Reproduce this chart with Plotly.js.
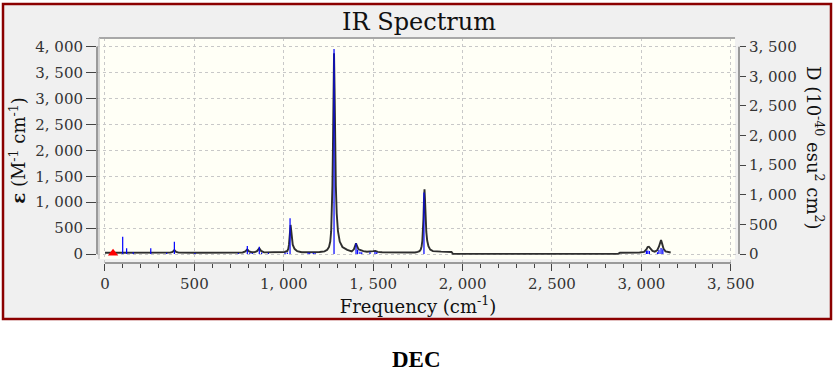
<!DOCTYPE html>
<html>
<head>
<meta charset="utf-8">
<script src="https://cdn.plot.ly/plotly-3.0.1.min.js"></script>
<style>
html,body{margin:0;padding:0;background:#ffffff;}
#chart{width:838px;height:377px;}
</style>
</head>
<body>
<div id="chart"></div>
<script>
// Broadened spectrum (black curve), epsilon in M^-1 cm^-1
const curveFreq = [0, 90, 250, 256, 262, 365, 378, 388, 398, 412, 500, 720, 770, 785, 796, 806, 820, 835, 850, 863, 873, 890, 980, 1005, 1020, 1025, 1029, 1032, 1035, 1038, 1041, 1045, 1050, 1060, 1075, 1100, 1128, 1136, 1144, 1158, 1168, 1180, 1200, 1228, 1243, 1253, 1260, 1265, 1269, 1272, 1275, 1278, 1281, 1284, 1287, 1291, 1296, 1303, 1313, 1328, 1355, 1380, 1392, 1399, 1404, 1410, 1418, 1430, 1445, 1465, 1480, 1490, 1500, 1512, 1525, 1550, 1650, 1734, 1749, 1759, 1766, 1771, 1775, 1778, 1781, 1784, 1787, 1790, 1793, 1797, 1802, 1809, 1819, 1834, 1880, 1938, 1946, 2000, 2870, 2880, 2990, 3015, 3028, 3035, 3042, 3050, 3062, 3075, 3088, 3098, 3105, 3110, 3116, 3124, 3135, 3150, 3164];
const curveEps = [25, 25, 25, 32, 25, 27, 42, 77, 42, 27, 25, 25, 30, 50, 90, 52, 35, 33, 55, 110, 60, 32, 28, 40, 60, 100, 180, 320, 470, 560, 470, 320, 180, 100, 55, 35, 33, 42, 33, 35, 40, 34, 38, 50, 80, 135, 240, 440, 780, 1320, 2100, 3200, 3872, 3200, 2100, 1320, 780, 440, 240, 135, 80, 50, 90, 170, 206, 150, 90, 75, 55, 45, 55, 48, 55, 60, 40, 33, 28, 30, 40, 55, 85, 150, 260, 430, 680, 1030, 1248, 1030, 680, 430, 260, 150, 85, 55, 45, 40, 3, 2, 2, 25, 28, 40, 90, 135, 141, 110, 60, 45, 70, 140, 220, 270, 200, 100, 50, 35, 28];

// Stick spectrum (blue lines), D in 10^-40 esu^2 cm^2
const stickFreq = [99, 121, 158, 256, 345, 388, 503, 746, 796, 810, 824, 863, 876, 914, 1007, 1020, 1035, 1136, 1145, 1165, 1175, 1281, 1404, 1413, 1426, 1436, 1482, 1510, 1520, 1784, 3028, 3036, 3045, 3090, 3098, 3110, 3120];
const stickD = [292, 96, 30, 96, 20, 208, 15, 15, 135, 20, 15, 123, 25, 20, 20, 25, 603, 25, 20, 20, 15, 3461, 181, 70, 40, 30, 30, 40, 30, 1040, 55, 60, 50, 30, 70, 100, 80];

// Marker
const markerFreq = [45];
const markerEps = [15];

// Tick labels
const xTickVals = [0, 500, 1000, 1500, 2000, 2500, 3000, 3500];
const xTickText = ["0", "500", "1, 000", "1, 500", "2, 000", "2, 500", "3, 000", "3, 500"];
const epsTickVals = [0, 500, 1000, 1500, 2000, 2500, 3000, 3500, 4000];
const epsTickText = ["0", "500", "1, 000", "1, 500", "2, 000", "2, 500", "3, 000", "3, 500", "4, 000"];
const dTickVals = [0, 500, 1000, 1500, 2000, 2500, 3000, 3500];
const dTickText = ["0", "500", "1, 000", "1, 500", "2, 000", "2, 500", "3, 000", "3, 500"];

const titleText = "IR Spectrum";
const xTitle = "Frequency (cm<sup>-1</sup>)";
const yTitle = "<b>ε</b> (M<sup>-1</sup> cm<sup>-1</sup>)";
const y2Title = "D (10<sup>-40</sup> esu<sup>2</sup> cm<sup>2</sup>)";
const captionText = "<b>DEC</b>";

// Build stick segments
const sx = [], sy = [];
for (let i = 0; i < stickFreq.length; i++) {
  sx.push(stickFreq[i], stickFreq[i], null);
  sy.push(0, stickD[i], null);
}

const FONT = "DejaVu Serif, Liberation Serif, serif";

const traces = [
  {x: sx, y: sy, type: 'scatter', mode: 'lines', yaxis: 'y2',
   line: {color: '#0000ff', width: 1.2}, hoverinfo: 'skip', showlegend: false},
  {x: curveFreq, y: curveEps, type: 'scatter', mode: 'lines',
   line: {color: '#2e2e2e', width: 1.9}, showlegend: false},
  {x: markerFreq, y: markerEps, type: 'scatter', mode: 'markers',
   marker: {symbol: 'triangle-up', color: '#ff0000', size: 9}, showlegend: false}
];

const layout = {
  width: 838, height: 377, autosize: false,
  margin: {l: 97, r: 99, t: 38, b: 114, pad: 0},
  paper_bgcolor: '#ffffff',
  plot_bgcolor: 'rgba(0,0,0,0)',
  font: {family: FONT, color: '#222'},
  title: {text: titleText, font: {family: FONT, size: 24, color: '#111'},
          x: 0.5, xref: 'container', y: 0.944, yref: 'container', yanchor: 'middle'},
  xaxis: {
    range: [-44.7, 3546], tickmode: 'array', tickvals: xTickVals, ticktext: xTickText,
    ticks: 'outside', ticklen: 7, tickwidth: 1, tickcolor: '#444',
    tickfont: {family: FONT, size: 15, color: '#333'},
    showline: false, zeroline: false,
    showgrid: true, gridcolor: '#c8c8c8', griddash: 'dot', gridwidth: 1,
    minor: {dtick: 100, tick0: 0, ticks: 'outside', ticklen: 4, tickcolor: '#444', showgrid: false},
    title: {text: xTitle, font: {family: FONT, size: 18, color: '#111'}, standoff: 7}
  },
  yaxis: {
    range: [-173.6, 4167.4], tickmode: 'array', tickvals: epsTickVals, ticktext: epsTickText,
    ticks: 'outside', ticklen: 10, tickwidth: 1, tickcolor: '#444',
    tickfont: {family: FONT, size: 15, color: '#333'},
    showline: false, zeroline: false,
    showgrid: true, gridcolor: '#c8c8c8', griddash: 'dot', gridwidth: 1,
    title: {text: yTitle, font: {family: FONT, size: 18, color: '#111'}, standoff: 4}
  },
  yaxis2: {
    overlaying: 'y', side: 'right',
    range: [-152, 3646.8], tickmode: 'array', tickvals: dTickVals, ticktext: dTickText,
    ticks: 'outside', ticklen: 6, tickwidth: 1, tickcolor: '#444',
    tickfont: {family: FONT, size: 15, color: '#333'},
    showline: false, zeroline: false, showgrid: false
  },
  shapes: [
    // outer frame
    {type: 'rect', xref: 'paper', yref: 'paper', x0: -0.1464, x1: 1.1433, y0: -0.2489, y1: 1.1511,
     fillcolor: '#f0f0f0', line: {color: '#8b0000', width: 2.5}, layer: 'below'},
    // plot area background
    {type: 'rect', xref: 'paper', yref: 'paper', x0: 0.0031, x1: 0.9938, y0: 0.0178, y1: 1,
     fillcolor: '#fffff6', line: {width: 0}, layer: 'below'},
    // sunken border top/left
    {type: 'line', xref: 'paper', yref: 'paper', x0: 0.0031, x1: 0.9938, y0: 1, y1: 1,
     line: {color: '#a8a8a8', width: 2}, layer: 'above'},
    {type: 'line', xref: 'paper', yref: 'paper', x0: 0.0031, x1: 0.0031, y0: 0.0178, y1: 1,
     line: {color: '#c8c8c8', width: 1.5}, layer: 'above'},
    // axis lines
    {type: 'line', xref: 'paper', yref: 'y', x0: 0, x1: 0, y0: 0, y1: 4000,
     line: {color: '#444', width: 1}},
    {type: 'line', xref: 'paper', yref: 'y2', x0: 1, x1: 1, y0: 0, y1: 3500,
     line: {color: '#444', width: 1}},
    {type: 'line', xref: 'x', yref: 'paper', x0: 0, x1: 3500, y0: 0, y1: 0,
     line: {color: '#444', width: 1}}
  ],
  annotations: [
    {text: y2Title, textangle: 90, xref: 'paper', yref: 'paper', x: 1.1184, y: 0.511,
     xanchor: 'center', yanchor: 'middle', showarrow: false,
     font: {family: FONT, size: 18, color: '#111'}},
    {text: captionText, xref: 'paper', yref: 'paper', x: 0.4984, y: -0.4267,
     xanchor: 'center', yanchor: 'middle', showarrow: false,
     font: {family: 'Liberation Serif, serif', size: 23, color: '#000'}}
  ]
};

Plotly.newPlot('chart', traces, layout, {displayModeBar: false, staticPlot: true});
</script>
</body>
</html>
